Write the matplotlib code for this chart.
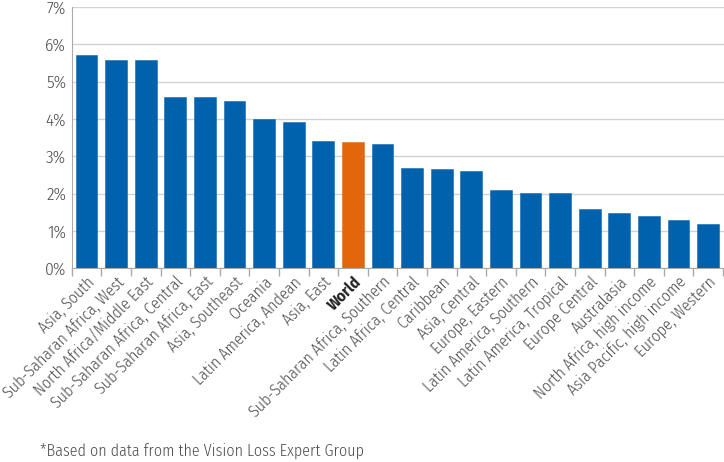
import matplotlib
matplotlib.use("Agg")
import matplotlib.pyplot as plt
from matplotlib.ticker import FuncFormatter, FixedLocator

categories = ["Asia, South", "Sub-Saharan Africa, West", "North Africa/Middle East",
              "Sub-Saharan Africa, Central", "Sub-Saharan Africa, East", "Asia, Southeast",
              "Oceania", "Latin America, Andean", "Asia, East", "World",
              "Sub-Saharan Africa, Southern", "Latin Africa, Central", "Caribbean",
              "Asia, Central", "Europe, Eastern", "Latin America, Southern",
              "Latin America, Tropical", "Europe Central", "Australasia",
              "North Africa, high income", "Asia Pacific, high income", "Europe, Western"]
values = [5.72, 5.58, 5.57, 4.59, 4.59, 4.49, 4.00, 3.91, 3.41, 3.39, 3.33, 2.68, 2.66,
          2.61, 2.10, 2.01, 2.01, 1.58, 1.47, 1.40, 1.29, 1.19]
highlight = "World"

plt.rcParams['font.family'] = ['Fira Sans Condensed', 'PT Sans Narrow', 'Liberation Sans', 'DejaVu Sans']
plt.rcParams['font.weight'] = 300

blue = "#0061AD"
orange = "#E3660B"
txt = "#4a4a4a"
grid = "#d2d2d2"

fig = plt.figure(figsize=(7.24, 4.62), dpi=100)
ax = fig.add_axes([71.7/724, 1-268.3/462, (723.5-71.7)/724, (268.3-7)/462])

x = list(range(len(categories)))
colors = [orange if c == highlight else blue for c in categories]
ax.bar(x, values, width=0.74, color=colors, edgecolor=[c + "99" for c in colors], linewidth=0.6, zorder=3)

ax.set_xlim(-0.5, len(categories) - 0.5 + 0.02)
ax.set_ylim(0, 7)
ax.set_yticks(range(0, 8))
ax.yaxis.set_major_formatter(FuncFormatter(lambda v, p: f"{int(v)}%"))
ax.grid(axis='y', color=grid, linewidth=1, zorder=0)
ax.set_axisbelow(True)

ax.xaxis.set_major_locator(FixedLocator([i - 0.5 for i in range(len(categories) + 1)]))
ax.xaxis.set_major_formatter(FuncFormatter(lambda v, p: ""))
ax.xaxis.set_minor_locator(FixedLocator(x))
ax.set_xticklabels(categories, minor=True)
ax.tick_params(axis='x', which='major', length=6, color="#aaaaaa", width=1)
ax.tick_params(axis='x', which='minor', length=0, pad=4)
ax.tick_params(axis='y', length=0, pad=4, labelsize=12.5, labelcolor=txt)

for lab, cat in zip(ax.get_xticklabels(minor=True), categories):
    lab.set_rotation(45)
    lab.set_ha('right')
    lab.set_va('top')
    lab.set_rotation_mode('anchor')
    lab.set_fontsize(11.6)
    lab.set_color(txt)
    if cat == highlight:
        lab.set_fontweight('bold')
        lab.set_color('#222222')

for s in ['top', 'right']:
    ax.spines[s].set_visible(False)
ax.spines['left'].set_color("#aaaaaa")
ax.spines['bottom'].set_color("#aaaaaa")

fig.text(40/724, 1-451/462, "*Based on data from the Vision Loss Expert Group",
         fontsize=11.5, color=txt, va='center', ha='left')

fig.savefig("out.png", dpi=100)
